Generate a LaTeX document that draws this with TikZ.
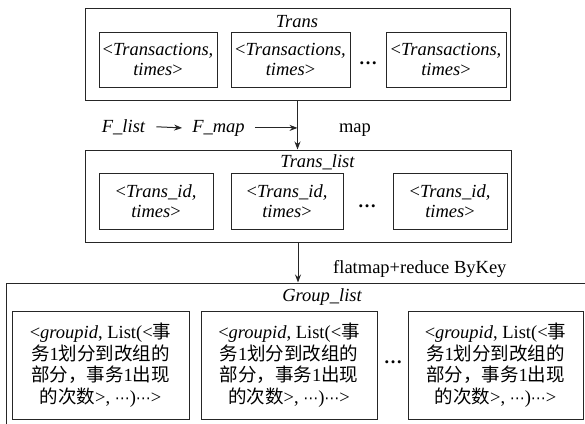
\documentclass[tikz,border=0pt]{standalone}
\usepackage{fontspec}
\setmainfont{Liberation Serif}
\newfontfamily\cjk{Noto Sans CJK SC}
\newfontfamily\sym{DejaVu Sans}
\usetikzlibrary{arrows.meta}

% midline ellipsis used inside the group entries
\newcommand{\mdots}{{\sym\fontsize{15}{15}\selectfont ⋯}}

\begin{document}
\begin{tikzpicture}[x=1pt,y=-1pt,
  frame/.style={draw=black!85, line width=1pt, inner sep=0pt},
  item/.style={frame, align=center, font=\fontsize{18.5}{20}\selectfont},
  gitem/.style={frame, align=center, font=\fontsize{18.5}{21.5}\selectfont},
  lbl/.style={font=\fontsize{18.5}{20}\selectfont\itshape, anchor=base, inner sep=0pt},
  txt/.style={font=\fontsize{18.5}{20}\selectfont, anchor=base, inner sep=0pt},
  dots/.style={font=\fontsize{18.5}{20}\selectfont\bfseries, anchor=base, inner sep=0pt},
  flow/.style={draw=black!85, line width=1pt, -{Stealth[length=8pt,width=6pt]}},
]
\path[use as bounding box, clip] (0,0) rectangle (585,423);

% --- Trans ---
\node[frame, minimum width=425pt, minimum height=92pt] (trans) at (297.5,54) {};
\node[lbl] (transl) at (297,27) {Trans};
\node[item, minimum width=118pt, minimum height=55pt] (t1) at (158,59.5)
  {<\textit{Transactions,}\\\textit{times}>};
\node[item, minimum width=119pt, minimum height=55pt] (t2) at (290.5,59.5)
  {<\textit{Transactions,}\\\textit{times}>};
\node[dots] (tdots) at (368,64) {…};
\node[item, minimum width=120pt, minimum height=55pt] (t3) at (446,59.5)
  {<\textit{Transactions,}\\\textit{times}>};

% --- Trans_list ---
\node[frame, minimum width=426pt, minimum height=92pt] (translist) at (298,196) {};
\node[lbl] (translistl) at (317.5,167) {Trans\_list};
\node[item, minimum width=114pt, minimum height=56pt] (l1) at (156,201)
  {<\textit{Trans\_id,}\\\textit{times}>};
\node[item, minimum width=112pt, minimum height=56pt] (l2) at (287,201)
  {<\textit{Trans\_id,}\\\textit{times}>};
\node[dots] (ldots) at (367,207) {…};
\node[item, minimum width=114pt, minimum height=56pt] (l3) at (450,201)
  {<\textit{Trans\_id,}\\\textit{times}>};

% --- Group_list ---
\node[frame, minimum width=583pt, minimum height=157pt] (group) at (297.5,361.5) {};
\node[lbl] (groupl) at (322,301) {Group\_list};
\node[gitem, minimum width=177pt, minimum height=108pt] (g1) at (100.5,365)
  {<\textit{groupid}, List(<{\cjk 事}\\{\cjk 务}1{\cjk 划分到改组的}\\{\cjk 部分，事务}1{\cjk 出现}\\{\cjk 的次数}>, \mdots)\mdots>};
\node[gitem, minimum width=176pt, minimum height=108pt] (g2) at (289,365)
  {<\textit{groupid}, List(<{\cjk 事}\\{\cjk 务}1{\cjk 划分到改组的}\\{\cjk 部分，事务}1{\cjk 出现}\\{\cjk 的次数}>, \mdots)\mdots>};
\node[dots] (gdots) at (393,363) {…};
\node[gitem, minimum width=175pt, minimum height=108pt] (g3) at (495.5,365)
  {<\textit{groupid}, List(<{\cjk 事}\\{\cjk 务}1{\cjk 划分到改组的}\\{\cjk 部分，事务}1{\cjk 出现}\\{\cjk 的次数}>, \mdots)\mdots>};

% --- operations between the stages ---
\node[lbl, inner xsep=11pt] (flist) at (123.5,132) {F\_list};
\node[lbl, inner xsep=10pt] (fmap) at (218.5,132) {F\_map};
\node[txt] (map) at (355,132) {map};
\node[txt, anchor=base west] (fred) at (333,273) {flatmap+reduce ByKey};

\coordinate (join) at (trans.south |- fmap.east);
\draw[flow] (trans.south) -- (trans.south |- translist.north);
\draw[flow] (flist.east) -- (fmap.west);
\draw[flow] (fmap.east) -- (join);
\draw[flow] (translist.south) -- (translist.south |- group.north);
\end{tikzpicture}
\end{document}
